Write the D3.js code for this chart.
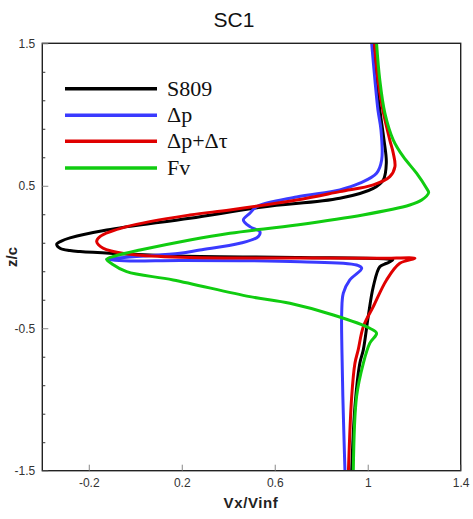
<!DOCTYPE html>
<html>
<head>
<meta charset="utf-8">
<script src="https://cdn.jsdelivr.net/npm/d3@7"></script>
<style>
  html, body { margin: 0; padding: 0; background: #fff; }
  svg { display: block; }
</style>
</head>
<body>
<svg id="chart" width="473" height="519"></svg>
<script>
// ---- data (Vx/Vinf, z/c) ----
const seriesNames = ["S809", "\u0394p", "\u0394p+\u0394\u03c4", "Fv"];
const seriesColors = ["#000000", "#3a3aff", "#e00000", "#10cc10"];

const s809 = [
  [1.022,1.5],[1.035,1.242],[1.052,1.032],[1.070,0.821],[1.080,0.660],[1.067,0.541],
  [1.024,0.482],[0.880,0.412],[0.549,0.351],[0.235,0.272],[-0.123,0.190],[-0.281,0.134],
  [-0.318,0.112],[-0.338,0.090],[-0.322,0.060],[-0.281,0.045],[-0.238,0.038],[-0.095,0.025],
  [0.192,0.007],[0.708,-0.003],[1.070,-0.012],[1.108,-0.020],[1.080,-0.045],[1.052,-0.068],
  [1.024,-0.208],[1.002,-0.419],[0.981,-0.652],[0.966,-0.746],[0.945,-1.050],[0.931,-1.5]
];
const dp = [
  [1.017,1.5],[1.031,1.242],[1.044,1.032],[1.057,0.892],[1.060,0.681],[1.038,0.588],
  [0.966,0.518],[0.880,0.471],[0.694,0.421],[0.522,0.353],[0.493,0.307],[0.465,0.260],
  [0.493,0.213],[0.536,0.178],[0.529,0.143],[0.450,0.096],[0.278,0.049],[0.192,0.026],
  [-0.009,0.002],[-0.123,-0.016],[-0.023,-0.028],[0.192,-0.024],[0.708,-0.033],[0.952,-0.056],
  [0.974,-0.079],[0.923,-0.161],[0.895,-0.254],[0.888,-0.395],[0.889,-0.652],[0.893,-0.980],
  [0.902,-1.5]
];
const dpdt = [
  [1.029,1.5],[1.044,1.242],[1.065,1.032],[1.095,0.821],[1.110,0.728],[1.117,0.634],
  [1.095,0.564],[1.024,0.506],[0.880,0.459],[0.694,0.400],[0.407,0.330],[0.235,0.295],
  [-0.037,0.213],[-0.152,0.143],[-0.166,0.108],[-0.138,0.061],[-0.095,0.039],[0.006,0.014],
  [0.235,-0.003],[0.708,-0.007],[1.052,-0.009],[1.203,-0.009],[1.138,-0.044],[1.081,-0.161],
  [1.024,-0.348],[0.981,-0.489],[0.959,-0.652],[0.945,-0.746],[0.931,-0.980],[0.917,-1.5]
];
const fv = [
  [1.038,1.5],[1.052,1.242],[1.074,1.009],[1.110,0.821],[1.153,0.704],[1.210,0.588],
  [1.253,0.482],[1.262,0.452],[1.232,0.400],[1.181,0.365],[0.979,0.295],[0.694,0.225],
  [0.407,0.167],[0.235,0.120],[0.020,0.049],[-0.087,0.007],[-0.123,-0.016],[-0.100,-0.049],
  [-0.037,-0.103],[0.163,-0.161],[0.493,-0.278],[0.665,-0.325],[0.852,-0.407],[1.009,-0.500],
  [1.038,-0.535],[1.009,-0.605],[0.981,-0.746],[0.952,-0.980],[0.938,-1.5]
];
const seriesData = [s809, dp, dpdt, fv];

const xTicks = [-0.2, 0.2, 0.6, 1, 1.4];
const xTickLabels = ["-0.2", "0.2", "0.6", "1", "1.4"];
const yTicks = [-1.5, -0.5, 0.5, 1.5];
const yTickLabels = ["-1.5", "-0.5", "0.5", "1.5"];
const yMinorTicks = [-1.3, -1.1, -0.9, -0.7, -0.3, -0.1, 0.1, 0.3, 0.7, 0.9, 1.1, 1.3];

// ---- layout ----
const L = 42.3, R = 460.7, T = 43.3, B = 470.7;
const svg = d3.select("#chart");
const x = d3.scaleLinear().domain([-0.4, 1.4]).range([L, R]);
const y = d3.scaleLinear().domain([-1.5, 1.5]).range([B, T]);

svg.append("defs").append("clipPath").attr("id", "clip")
  .append("rect").attr("x", L).attr("y", T).attr("width", R - L).attr("height", B - T);

// title
svg.append("text").attr("x", 234).attr("y", 27).attr("text-anchor", "middle")
  .attr("font-family", "Liberation Sans, Arial, sans-serif").attr("font-size", 21)
  .attr("fill", "#111").text("SC1");

// curves
const line = d3.line().x(d => x(d[0])).y(d => y(d[1])).curve(d3.curveCatmullRom.alpha(0.5));
const g = svg.append("g").attr("clip-path", "url(#clip)");
seriesData.forEach((s, i) => {
  g.append("path").datum(s).attr("d", line).attr("fill", "none")
    .attr("stroke", seriesColors[i]).attr("stroke-width", 3)
    .attr("stroke-linejoin", "round").attr("stroke-linecap", "round");
});

// frame
svg.append("rect").attr("x", L).attr("y", T).attr("width", R - L).attr("height", B - T)
  .attr("fill", "none").attr("stroke", "#222").attr("stroke-width", 1.4);

// axes (ticks pointing inward)
const xAxis = d3.axisBottom(x).tickValues(xTicks).tickSizeInner(-6).tickSizeOuter(0)
  .tickPadding(8).tickFormat((d, i) => xTickLabels[i]);
const gx = svg.append("g").attr("transform", `translate(0,${B})`).call(xAxis);
gx.select(".domain").remove();
gx.selectAll(".tick line").attr("stroke", "#888");
gx.selectAll("text").attr("font-family", "Liberation Sans, Arial, sans-serif")
  .attr("font-size", 12).attr("fill", "#333");

const yAxis = d3.axisLeft(y).tickValues(yTicks).tickSizeInner(-6).tickSizeOuter(0)
  .tickPadding(7).tickFormat((d, i) => yTickLabels[i]);
const gy = svg.append("g").attr("transform", `translate(${L},0)`).call(yAxis);
gy.select(".domain").remove();
gy.selectAll(".tick line").attr("stroke", "#888");
gy.selectAll("text").attr("font-family", "Liberation Sans, Arial, sans-serif")
  .attr("font-size", 12).attr("fill", "#333");

const yMinor = d3.axisLeft(y).tickValues(yMinorTicks).tickSizeInner(-3).tickSizeOuter(0).tickFormat("");
const gym = svg.append("g").attr("transform", `translate(${L},0)`).call(yMinor);
gym.select(".domain").remove();
gym.selectAll(".tick line").attr("stroke", "#333");

// axis titles
svg.append("text").attr("x", 251).attr("y", 508).attr("text-anchor", "middle")
  .attr("font-family", "Liberation Sans, Arial, sans-serif").attr("font-size", 15)
  .attr("font-weight", "bold").attr("fill", "#222").attr("letter-spacing", 0.6).text("Vx/Vinf");
svg.append("text").attr("transform", "translate(17,257) rotate(-90)").attr("text-anchor", "middle")
  .attr("font-family", "Liberation Sans, Arial, sans-serif").attr("font-size", 15)
  .attr("font-weight", "bold").attr("fill", "#222").text("z/c");

// legend
const legendY = [88.7, 115.3, 141.3, 168];
const lg = svg.append("g");
seriesNames.forEach((n, i) => {
  lg.append("line").attr("x1", 65).attr("x2", 157).attr("y1", legendY[i]).attr("y2", legendY[i])
    .attr("stroke", seriesColors[i]).attr("stroke-width", 3.5);
  lg.append("text").attr("x", 167).attr("y", legendY[i] + 7)
    .attr("font-family", "Liberation Serif, Times New Roman, serif").attr("font-size", 22)
    .attr("fill", "#111").text(n);
});
</script>
</body>
</html>
